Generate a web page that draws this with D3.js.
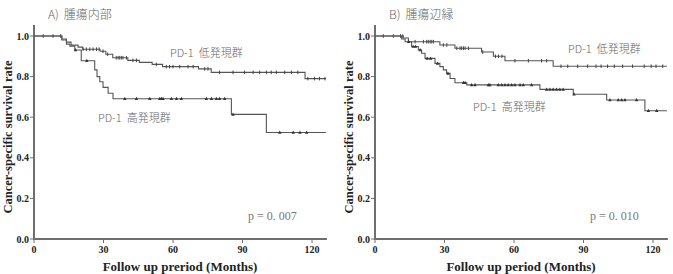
<!DOCTYPE html>
<html>
<head>
<meta charset="utf-8">
<script src="https://cdn.jsdelivr.net/npm/d3@7"></script>
<style>
  html, body { margin: 0; padding: 0; background: #fff; }
  svg { display: block; }
  .tick-label { font-family: "Liberation Serif", serif; font-weight: bold; font-size: 10px; fill: #222; }
  .axis-title { font-family: "Liberation Serif", serif; font-weight: bold; font-size: 13px; fill: #222; }
  .note { font-family: "Noto Sans CJK JP", sans-serif; font-size: 11px; fill: #666; font-weight: 300; }
  .pval { font-family: "Liberation Serif", serif; font-size: 12px; fill: #777; }
</style>
</head>
<body>
<svg id="chart" width="673" height="274"></svg>
<script>
const monthTicks = [0, 30, 60, 90, 120];
const rateTicks = [0.0, 0.2, 0.4, 0.6, 0.8, 1.0];
const endMonth = 126;

// panel A: 腫瘍内部
const lowA = [[0, 1], [12, 0.985], [14, 0.97], [16, 0.955], [19, 0.945], [21, 0.935], [28.5, 0.925],
  [31, 0.91], [34, 0.893], [40.5, 0.88], [45.5, 0.87], [51, 0.86], [55.5, 0.849], [71, 0.838],
  [76.5, 0.821], [117, 0.79]];
const lowACensor = [4, 8.2, 11.5, 21.2, 22.6, 24.1, 25.5, 27, 28.1, 29.8, 31.8, 35.5, 36.3, 37, 37.7,
  38.4, 39.9, 42.7, 44.2, 52.8, 57.1, 58.5, 60, 62.9, 66.5, 68.7, 73.7, 75.1, 80.1, 85.9, 90.9, 94.6,
  97.4, 100.3, 102.4, 104.6, 108.2, 111.1, 113.9, 118.2, 121.1, 123.2, 125.6];
const highA = [[0, 1], [12, 0.98], [14, 0.96], [15.5, 0.95], [17.6, 0.931], [20.4, 0.878],
  [26.2, 0.833], [27.2, 0.8], [28.4, 0.775], [29.8, 0.747], [32, 0.718], [34.1, 0.691],
  [85.2, 0.614], [100.3, 0.525]];
const highACensor = [17.9, 22.8, 39.2, 44.2, 50, 54.3, 55, 55.7, 59.3, 61.5, 63.6, 74.4, 76.6, 78.7,
  80.1, 82.3, 85.9, 106.1, 111.9, 114.8, 117.7];

// panel B: 腫瘍辺縁
const lowB = [[0, 1], [12.2, 0.99], [14.4, 0.972], [28, 0.956], [34.5, 0.94], [46, 0.921],
  [51.1, 0.9], [56.1, 0.878], [76.9, 0.851]];
const lowBCensor = [3.6, 7.9, 11, 12, 17.3, 20.9, 22.3, 23, 23.8, 24.5, 25.2, 29.5, 31, 35.3, 36.7,
  37.4, 38.2, 38.9, 40.3, 46.5, 52, 53.3, 54.8, 60.4, 66.2, 71.9, 74.1, 80.3, 83.2, 87.5, 91.8, 95.4,
  97.6, 100.4, 103.3, 106.9, 111.2, 116.2, 119.2, 121.3, 124.2];
const highB = [[0, 1], [11.5, 0.985], [13, 0.972], [15.8, 0.948], [18.7, 0.931], [20.1, 0.915],
  [21.6, 0.89], [25.9, 0.865], [28, 0.849], [29.5, 0.833], [30.9, 0.816], [32.4, 0.791],
  [34.5, 0.77], [39.6, 0.759], [71.2, 0.737], [85.6, 0.713], [100, 0.685], [116.5, 0.632]];
const highBCensor = [14.5, 16.5, 17.5, 19.5, 22.5, 24, 27, 31.5, 38.2, 38.9, 41.7, 43.2, 48.9, 49.6,
  53.2, 54.7, 56.1, 57.5, 59, 60.4, 62.6, 64, 67.6, 74.1, 75.5, 76.9, 78.4, 79.8, 81.2, 85.9, 101.4,
  105, 106.5, 107.9, 112.9, 118, 121.6];

const panels = [
  { left: 34, title: ['A)', '腫瘍内部'], xTitle: 'Follow up preriod (Months)', pval: 'p = 0. 007',
    low: lowA, lowCensor: lowACensor, high: highA, highCensor: highACensor,
    lowLabel: [170, 57], highLabel: [98, 122], pLabel: [248, 220] },
  { left: 375, title: ['B)', '腫瘍辺縁'], xTitle: 'Follow up period (Months)', pval: 'p = 0. 010',
    low: lowB, lowCensor: lowBCensor, high: highB, highCensor: highBCensor,
    lowLabel: [568, 53], highLabel: [473, 111], pLabel: [590, 220] },
];

const svg = d3.select('#chart');
const y = d3.scaleLinear().domain([0, 1]).range([239, 36]);

function survivalAt(steps, t) {
  let s = steps[0][1];
  for (const [m, v] of steps) { if (m <= t) s = v; }
  return s;
}

function label(g, pos, first, second, size) {
  const t = g.append('text').attr('class', 'note').attr('x', pos[0]).attr('y', pos[1]);
  if (size) t.style('font-size', size);
  t.append('tspan').text(first);
  t.append('tspan').attr('dx', 5).text(second);
}

function drawPanel(p) {
  const x = d3.scaleLinear().domain([0, 120]).range([p.left, p.left + 278]);
  const g = svg.append('g');
  const axisColor = '#6e6e6e';

  // axes lines
  g.append('line').attr('x1', x(0)).attr('x2', x(endMonth) + 1).attr('y1', y(0)).attr('y2', y(0))
    .attr('stroke', axisColor).attr('stroke-width', 2);
  g.append('line').attr('x1', x(0)).attr('x2', x(0)).attr('y1', y(0) + 1).attr('y2', 25)
    .attr('stroke', axisColor).attr('stroke-width', 2);

  // y ticks
  rateTicks.forEach(v => {
    g.append('line').attr('x1', x(0) - 4).attr('x2', x(0)).attr('y1', y(v)).attr('y2', y(v))
      .attr('stroke', axisColor).attr('stroke-width', 1);
    g.append('text').attr('class', 'tick-label').attr('x', x(0) - 5).attr('y', y(v) + 3.5)
      .attr('text-anchor', 'end').text(v.toFixed(1));
  });
  // x ticks
  monthTicks.forEach(m => {
    g.append('line').attr('x1', x(m)).attr('x2', x(m)).attr('y1', y(0)).attr('y2', y(0) + 4)
      .attr('stroke', axisColor).attr('stroke-width', 1);
    g.append('text').attr('class', 'tick-label').attr('x', x(m)).attr('y', y(0) + 14)
      .attr('text-anchor', 'middle').text(m);
  });

  g.append('text').attr('class', 'axis-title').attr('x', x(0) + 146).attr('y', 271)
    .attr('text-anchor', 'middle').text(p.xTitle);
  g.append('text').attr('class', 'axis-title').style('font-size', '12.5px')
    .attr('transform', `translate(${x(0) - 22},137) rotate(-90)`)
    .attr('text-anchor', 'middle').text('Cancer-specific survival rate');

  label(g, [x(0) + 14, 19], p.title[0], p.title[1], '12px');

  // curves
  const line = d3.line().x(d => x(d[0])).y(d => y(d[1])).curve(d3.curveStepAfter);
  [[p.low, p.lowCensor, 'tick'], [p.high, p.highCensor, 'tri']].forEach(([steps, censor, kind]) => {
    const pts = steps.concat([[endMonth, steps[steps.length - 1][1]]]);
    g.append('path').attr('d', line(pts)).attr('fill', 'none')
      .attr('stroke', '#555').attr('stroke-width', 1.1);
    censor.forEach(m => {
      const cx = x(m), cy = y(survivalAt(steps, m));
      if (kind === 'tick') {
        g.append('line').attr('x1', cx).attr('x2', cx).attr('y1', cy - 1.8).attr('y2', cy + 1.8)
          .attr('stroke', '#444').attr('stroke-width', 1);
      } else {
        g.append('path').attr('d', `M${cx - 1.7},${cy + 1.3}L${cx},${cy - 1.9}L${cx + 1.7},${cy + 1.3}Z`)
          .attr('fill', '#333');
      }
    });
  });

  label(g, p.lowLabel, 'PD-1', '低発現群');
  label(g, p.highLabel, 'PD-1', '高発現群');
  g.append('text').attr('class', 'pval').attr('x', p.pLabel[0]).attr('y', p.pLabel[1]).text(p.pval);
}

panels.forEach(drawPanel);
</script>
</body>
</html>
